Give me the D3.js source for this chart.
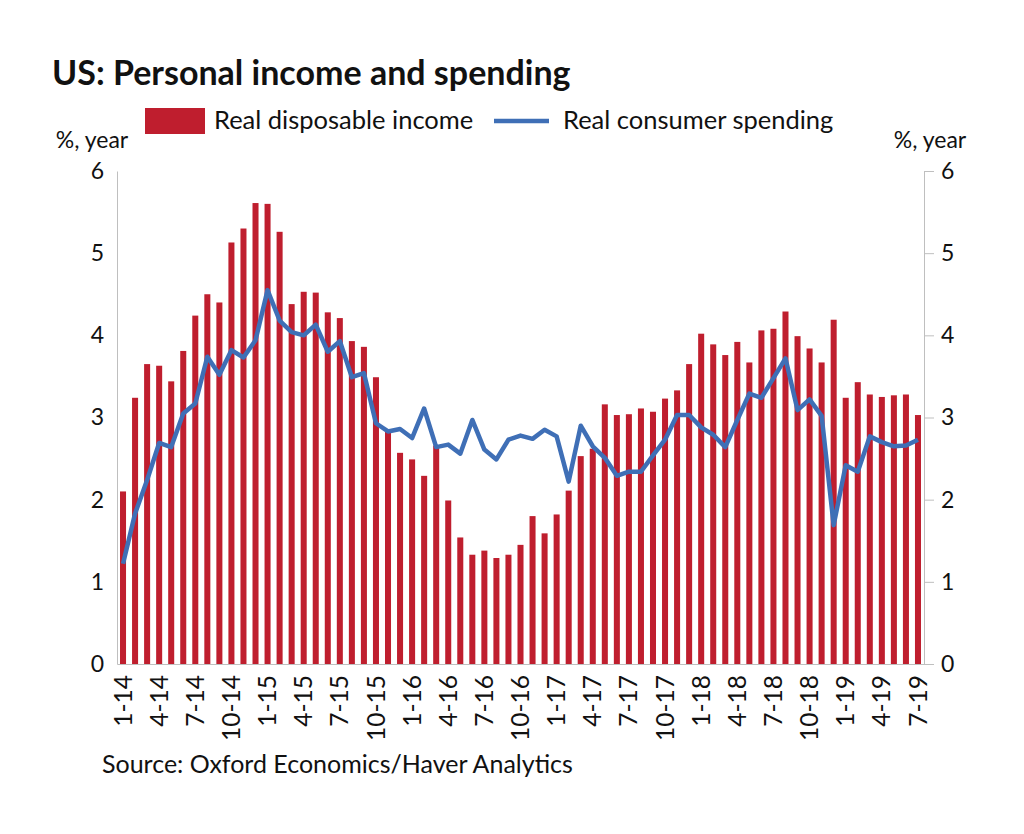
<!DOCTYPE html>
<html><head><meta charset="utf-8">
<script src="https://cdn.jsdelivr.net/npm/d3@7"></script>
<style>body{margin:0;background:#fff}svg{display:block}text{font-family:Lato,"Open Sans",sans-serif;fill:#111}</style>
</head><body>
<svg id="c" width="1024" height="834"></svg>
<script>
const months = [];
const years = ["14","15","16","17","18","19"];
years.forEach(y => { const n = y === "19" ? 7 : 12; for (let m = 1; m <= n; m++) months.push(m + "-" + y); });
const tickLabels = months.filter((d, i) => i % 3 === 0);
const income = [2.10,3.24,3.65,3.63,3.44,3.81,4.24,4.50,4.40,5.13,5.30,5.61,
 5.60,5.26,4.38,4.53,4.52,4.28,4.21,3.93,3.86,3.49,2.83,2.57,
 2.49,2.29,2.66,1.99,1.54,1.33,1.38,1.29,1.33,1.45,1.80,1.59,
 1.82,2.11,2.53,2.62,3.16,3.03,3.04,3.11,3.07,3.23,3.33,3.65,
 4.02,3.89,3.76,3.92,3.67,4.06,4.08,4.29,3.99,3.84,3.67,4.19,
 3.24,3.43,3.28,3.25,3.27,3.28,3.03];
const spending = [1.22,1.83,2.24,2.69,2.64,3.05,3.17,3.74,3.52,3.82,3.73,3.94,
 4.55,4.18,4.04,4.00,4.13,3.80,3.93,3.49,3.54,2.93,2.83,2.86,
 2.75,3.11,2.64,2.67,2.56,2.97,2.61,2.49,2.73,2.78,2.74,2.85,
 2.77,2.22,2.90,2.65,2.51,2.29,2.34,2.34,2.54,2.73,3.03,3.03,
 2.88,2.79,2.64,2.97,3.29,3.24,3.48,3.72,3.09,3.22,3.02,1.69,
 2.42,2.34,2.77,2.70,2.65,2.66,2.73];
const yTicks = [0,1,2,3,4,5,6];

const svg = d3.select("#c");
const L = 117, R = 924, T = 171, B = 664;
const x = d3.scaleBand().domain(months).range([L, R]).paddingInner(0.5).paddingOuter(0.25);
const y = d3.scaleLinear().domain([0, 6]).range([B, T]);

// bars
svg.append("g").selectAll("rect").data(income).join("rect")
  .attr("x", (d, i) => x(months[i])).attr("width", x.bandwidth())
  .attr("y", d => y(d)).attr("height", d => y(0) - y(d))
  .attr("fill", "#BF1E2E");

// axes
const gl = svg.append("g").attr("transform", `translate(${L},0)`)
  .call(d3.axisLeft(y).tickValues(yTicks).tickSize(0).tickPadding(13).tickFormat(d3.format("d")));
const gr = svg.append("g").attr("transform", `translate(${R},0)`)
  .call(d3.axisRight(y).tickValues(yTicks).tickSize(10).tickPadding(7).tickFormat(d3.format("d")));
const gx = svg.append("g").attr("transform", `translate(0,${B})`)
  .call(d3.axisBottom(x).tickValues(tickLabels).tickSize(0).tickPadding(0));
[gl, gr, gx].forEach(g => {
  g.select(".domain").attr("stroke", "#BFBFBF").attr("stroke-width", 1);
  g.selectAll(".tick line").attr("stroke", "#BFBFBF");
  g.selectAll("text").style("font-family", "Lato, 'Open Sans', sans-serif").attr("fill", "#111");
});
gl.selectAll("text").attr("font-size", 23);
gr.selectAll("text").attr("font-size", 23);
gx.selectAll("text").attr("font-size", 24.5)
  .attr("transform", "rotate(-90)").attr("text-anchor", "end")
  .attr("x", -11).attr("y", 0).attr("dy", "0.35em");

// line
const line = d3.line().x((d, i) => x(months[i]) + x.bandwidth() / 2).y(d => y(d));
svg.append("path").datum(spending).attr("d", line)
  .attr("fill", "none").attr("stroke", "#3F6FB6").attr("stroke-width", 4.5).attr("stroke-linejoin", "round");

// titles
svg.append("text").attr("x", 52).attr("y", 85).attr("font-size", 34).attr("font-weight", "bold")
  .text("US: Personal income and spending");
svg.append("text").attr("x", 92).attr("y", 148).attr("font-size", 23).attr("text-anchor", "middle").text("%, year");
svg.append("text").attr("x", 930).attr("y", 148).attr("font-size", 23).attr("text-anchor", "middle").text("%, year");

// legend
svg.append("rect").attr("x", 145).attr("y", 108).attr("width", 60).attr("height", 26).attr("fill", "#BF1E2E");
svg.append("text").attr("x", 214).attr("y", 129).attr("font-size", 25.5).text("Real disposable income");
svg.append("line").attr("x1", 494).attr("x2", 549).attr("y1", 121).attr("y2", 121)
  .attr("stroke", "#3F6FB6").attr("stroke-width", 4.5);
svg.append("text").attr("x", 563).attr("y", 129).attr("font-size", 25.5).text("Real consumer spending");

svg.append("text").attr("x", 102).attr("y", 773).attr("font-size", 25).text("Source: Oxford Economics/Haver Analytics");
</script>
</body></html>
